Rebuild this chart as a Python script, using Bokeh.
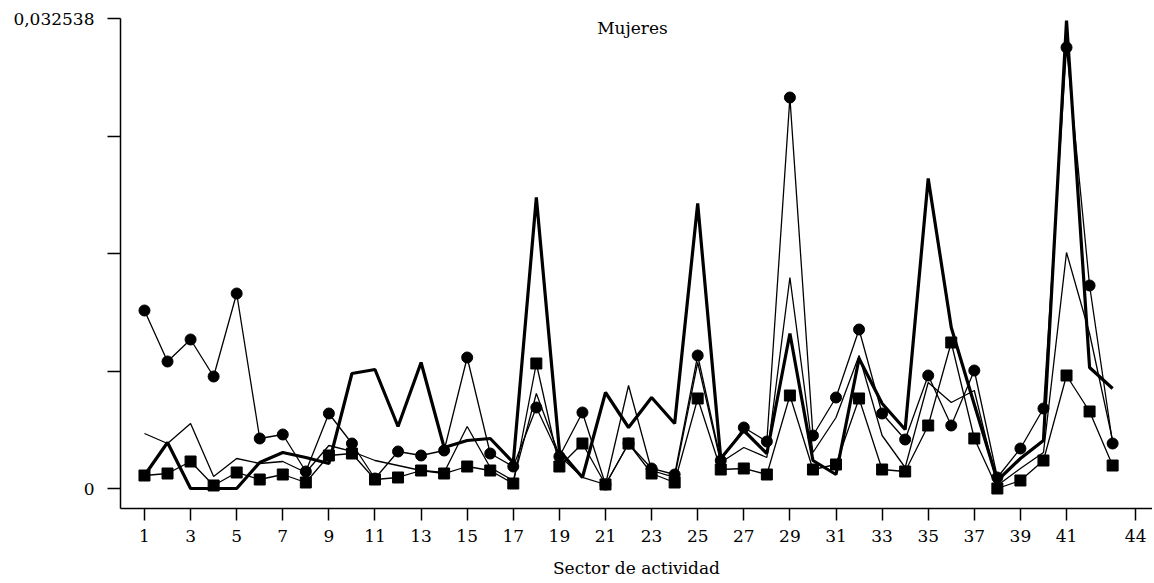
from bokeh.plotting import figure
from bokeh.models import Range1d, FixedTicker, CustomJSTickFormatter, Label, ColumnDataSource
from bokeh.embed import file_html
from bokeh.resources import INLINE

sector = list(range(1, 44))

serie_circulos = [0.012323, 0.008792, 0.010315, 0.007754, 0.013500, 0.003462, 0.003738, 0.001177,
                  0.005192, 0.003115, 0.000692, 0.002562, 0.002285, 0.002631, 0.009069, 0.002423,
                  0.001523, 0.005608, 0.002215, 0.005262, 0.000277, 0.003115, 0.001385, 0.000969,
                  0.009208, 0.001938, 0.004223, 0.003254, 0.027069, 0.003669, 0.006300, 0.011008,
                  0.005192, 0.003392, 0.007823, 0.004361, 0.008169, 0.000762, 0.002769, 0.005538,
                  0.030531, 0.014054, 0.003115]

serie_cuadrados = [0.000900, 0.001038, 0.001869, 0.000208, 0.001108, 0.000623, 0.000969, 0.000415,
                   0.002285, 0.002423, 0.000623, 0.000762, 0.001246, 0.001038, 0.001523, 0.001246,
                   0.000346, 0.008654, 0.001523, 0.003115, 0.000277, 0.003115, 0.001038, 0.000415,
                   0.006231, 0.001315, 0.001385, 0.000969, 0.006438, 0.001315, 0.001662, 0.006231,
                   0.001315, 0.001177, 0.004361, 0.010108, 0.003462, 0.000000, 0.000554, 0.001938,
                   0.007823, 0.005331, 0.001592]

serie_gruesa = [0.000900, 0.003185, 0.000000, 0.000000, 0.000000, 0.001800, 0.002492, 0.002146,
                0.001731, 0.007962, 0.008238, 0.004292, 0.008723, 0.002838, 0.003323, 0.003462,
                0.001800, 0.020146, 0.002631, 0.000762, 0.006646, 0.004223, 0.006300, 0.004500,
                0.019731, 0.002077, 0.004015, 0.002423, 0.010731, 0.001938, 0.000969, 0.009000,
                0.005885, 0.004085, 0.021461, 0.011146, 0.005815, 0.000554, 0.002077, 0.003323,
                0.032400, 0.008377, 0.006923]

serie_fina = [0.003808, 0.003115, 0.004500, 0.000831, 0.002077, 0.001731, 0.001869, 0.001108,
              0.002977, 0.002562, 0.001938, 0.001592, 0.001246, 0.001108, 0.004292, 0.001454,
              0.000554, 0.006577, 0.002285, 0.000762, 0.000277, 0.007131, 0.001246, 0.000762,
              0.008723, 0.001800, 0.002838, 0.002146, 0.014608, 0.002492, 0.004915, 0.009208,
              0.003669, 0.001454, 0.007338, 0.005954, 0.006785, 0.000208, 0.001385, 0.002492,
              0.016338, 0.010731, 0.003323]

x_ticks = [1, 3, 5, 7, 9, 11, 13, 15, 17, 19, 21, 23, 25, 27, 29, 31, 33, 35, 37, 39, 41, 44]
y_max = 0.032538
y_ticks = [0, y_max / 4, y_max / 2, 3 * y_max / 4, y_max]

src = ColumnDataSource(dict(x=sector, c=serie_circulos, s=serie_cuadrados,
                            t=serie_gruesa, f=serie_fina))

FONT = "DejaVu Serif"

p = figure(width=1152, height=582, output_backend="svg", toolbar_location=None,
           x_range=Range1d(-0.04, 44.73), y_range=Range1d(-0.0013846, 0.0325385),
           min_border_left=120, min_border_right=0, min_border_top=18, min_border_bottom=74)

p.outline_line_color = None
p.xgrid.visible = False
p.ygrid.visible = False
p.background_fill_color = "white"

p.line("x", "f", source=src, line_color="black", line_width=1.3)
p.line("x", "c", source=src, line_color="black", line_width=1.3)
p.line("x", "s", source=src, line_color="black", line_width=1.3)
p.line("x", "t", source=src, line_color="black", line_width=3.2)
p.scatter("x", "c", source=src, marker="circle", size=11, fill_color="black", line_color="black")
p.scatter("x", "s", source=src, marker="square", size=11, fill_color="black", line_color="black")

for ax in (p.xaxis[0], p.yaxis[0]):
    ax.axis_line_color = "black"
    ax.axis_line_width = 1.5
    ax.major_tick_line_color = "black"
    ax.major_tick_line_width = 1.5
    ax.minor_tick_line_color = None
    ax.major_tick_in = 0
    ax.major_label_text_font = FONT
    ax.major_label_text_font_size = "17px"
    ax.major_label_text_color = "black"
    ax.axis_label_text_font = FONT
    ax.axis_label_text_font_size = "17px"
    ax.axis_label_text_font_style = "normal"
    ax.axis_label_text_color = "black"

p.xaxis.ticker = FixedTicker(ticks=x_ticks)
p.xaxis.major_tick_out = 12
p.xaxis.major_label_standoff = 9
p.xaxis.axis_label = "Sector de actividad"
p.xaxis.axis_label_standoff = 13

p.yaxis.ticker = FixedTicker(ticks=y_ticks)
p.yaxis.major_tick_out = 13
p.yaxis.major_label_standoff = 13
p.yaxis.major_label_orientation = "horizontal"
p.yaxis.formatter = CustomJSTickFormatter(code="""
if (Math.abs(tick) < 1e-9) return "0";
if (Math.abs(tick - 0.032538) < 1e-9) return "0,032538";
return "";
""")

p.add_layout(Label(x=22.17, y=0.03185, text="Mujeres", text_align="center",
                   text_baseline="middle", text_font=FONT, text_font_size="17px",
                   text_color="black"))

open("out.html", "w").write(file_html(p, INLINE))
